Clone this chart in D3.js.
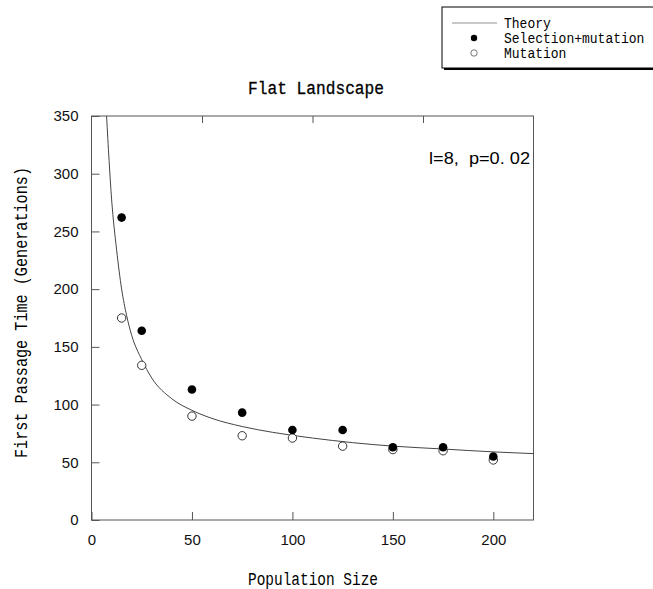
<!DOCTYPE html>
<html>
<head>
<meta charset="utf-8">
<script src="https://cdn.jsdelivr.net/npm/d3@7"></script>
<style>
  body { margin: 0; background: #fff; }
  svg { display: block; }
</style>
</head>
<body>
<div id="chart"></div>
<script>
var w = 653;
var h = 589;

// data
var popSize = [15, 25, 50, 75, 100, 125, 150, 175, 200];
var selMut = [262, 164, 113, 93, 78, 78, 63, 63, 55];
var mutOnly = [175, 134, 90, 73, 71, 64, 61, 60, 52];

var theoryN = [7.5, 10, 12.5, 15, 17.5, 20, 25, 30, 40, 50, 60, 75, 90, 110, 130, 150, 175, 200, 220];
var theoryT = [350, 278, 234, 200, 177, 160, 139, 123, 105, 95, 88, 81, 76, 71, 67, 64, 61.5, 59, 57.5];

var xTicks = [0, 50, 100, 150, 200];
var topTicks = [55, 110, 165];
var yTicks = [0, 50, 100, 150, 200, 250, 300, 350];

var legendLabels = ["Theory", "Selection+mutation", "Mutation"];

// plot box (don't call it "top", that's window.top)
var plotL = 91.5, plotR = 533.5, plotT = 116, plotB = 520;
var mono = "'Liberation Mono', 'DejaVu Sans Mono', monospace";
var sans = "'Liberation Sans', Arial, sans-serif";

var xScale = d3.scaleLinear().domain([0, 220]).range([plotL, plotR]);
var yScale = d3.scaleLinear().domain([0, 350]).range([plotB, plotT]);

var svg = d3.select("#chart").append("svg").attr("width", w).attr("height", h);

// frame
svg.append("rect")
  .attr("x", plotL).attr("y", plotT)
  .attr("width", plotR - plotL).attr("height", plotB - plotT)
  .attr("fill", "none").attr("stroke", "#555").attr("stroke-width", 1);

// axes, ticks pointing inward
var xAxis = d3.axisBottom(xScale).tickValues(xTicks).tickSizeInner(-8).tickSizeOuter(0).tickPadding(14);
var yAxis = d3.axisLeft(yScale).tickValues(yTicks).tickSizeInner(-8).tickSizeOuter(0).tickPadding(13);
var topAxis = d3.axisTop(xScale).tickValues(topTicks).tickSizeInner(-7).tickSizeOuter(0).tickFormat("");

function styleAxis(g) {
  g.select(".domain").remove();
  g.selectAll(".tick line").attr("stroke", "#555");
  g.selectAll(".tick text").attr("fill", "#111").style("font-family", sans).style("font-size", "15px");
}

svg.append("g").attr("transform", "translate(0," + plotB + ")").call(xAxis).call(styleAxis);
svg.append("g").attr("transform", "translate(" + plotL + ",0)").call(yAxis).call(styleAxis);
svg.append("g").attr("transform", "translate(0," + plotT + ")").call(topAxis).call(styleAxis);

// theory curve
var line = d3.line()
  .x((d, i) => xScale(theoryN[i]))
  .y((d) => yScale(d))
  .curve(d3.curveMonotoneX);

svg.append("path")
  .datum(theoryT)
  .attr("d", line)
  .attr("fill", "none")
  .attr("stroke", "#444")
  .attr("stroke-width", 1);

// points
svg.selectAll("circle.mut")
  .data(mutOnly)
  .enter()
  .append("circle")
  .attr("class", "mut")
  .attr("cx", (d, i) => xScale(popSize[i]))
  .attr("cy", (d) => yScale(d))
  .attr("r", 4.2)
  .attr("fill", "#fff")
  .attr("stroke", "#333")
  .attr("stroke-width", 1);

svg.selectAll("circle.sel")
  .data(selMut)
  .enter()
  .append("circle")
  .attr("class", "sel")
  .attr("cx", (d, i) => xScale(popSize[i]))
  .attr("cy", (d) => yScale(d))
  .attr("r", 4.3)
  .attr("fill", "#000");

// title and labels
svg.append("text")
  .attr("x", 248).attr("y", 94)
  .attr("textLength", 136).attr("lengthAdjust", "spacingAndGlyphs")
  .style("font-family", mono).style("font-size", "18px")
  .attr("stroke", "#000").attr("stroke-width", 0.3)
  .text("Flat Landscape");

svg.append("text")
  .attr("x", 248).attr("y", 585)
  .attr("textLength", 130).attr("lengthAdjust", "spacingAndGlyphs")
  .style("font-family", mono).style("font-size", "18px")
  .text("Population Size");

svg.append("text")
  .attr("transform", "translate(27,458) rotate(-90)")
  .attr("textLength", 291).attr("lengthAdjust", "spacingAndGlyphs")
  .style("font-family", mono).style("font-size", "18px")
  .text("First Passage Time (Generations)");

svg.append("text")
  .attr("x", 429).attr("y", 164)
  .attr("textLength", 101).attr("lengthAdjust", "spacingAndGlyphs")
  .style("font-family", sans).style("font-size", "16px")
  .style("white-space", "pre")
  .text("l=8,  p=0. 02");

// legend
var lg = svg.append("g");
lg.append("rect")
  .attr("x", 444).attr("y", 9).attr("width", 220).attr("height", 61)
  .attr("fill", "#000");
lg.append("rect")
  .attr("x", 442).attr("y", 7).attr("width", 220).attr("height", 61)
  .attr("fill", "#fff").attr("stroke", "#000").attr("stroke-width", 1);

lg.append("line")
  .attr("x1", 452).attr("x2", 497).attr("y1", 23).attr("y2", 23)
  .attr("stroke", "#777").attr("stroke-width", 0.8);
lg.append("circle").attr("cx", 474).attr("cy", 38).attr("r", 3.2).attr("fill", "#000");
lg.append("circle").attr("cx", 474).attr("cy", 53).attr("r", 3.2)
  .attr("fill", "#fff").attr("stroke", "#555").attr("stroke-width", 0.8);

lg.selectAll("text.leg")
  .data(legendLabels)
  .enter()
  .append("text")
  .attr("class", "leg")
  .attr("x", 504)
  .attr("y", (d, i) => 28 + i * 15)
  .attr("textLength", (d) => d.length * 7.8)
  .attr("lengthAdjust", "spacingAndGlyphs")
  .style("font-family", mono).style("font-size", "14px")
  .text((d) => d);
</script>
</body>
</html>
